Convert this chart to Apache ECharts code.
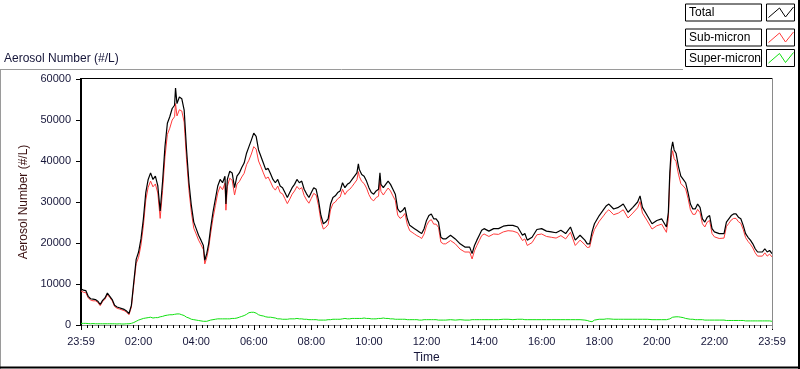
<!DOCTYPE html>
<html>
<head>
<meta charset="utf-8">
<script src="https://cdn.jsdelivr.net/npm/echarts@6/dist/echarts.min.js"></script>
<style>
  html, body { margin: 0; padding: 0; background: #fff; }
  #chart { width: 800px; height: 369px; }
</style>
</head>
<body>
<div id="chart"></div>
<script>
// Minutes after 23:59 (start of the record)
const minutes = [0,5,10,15,20,25,30,35,40,45,50,55,60,65,70,75,80,85,90,95,100,102,105,110,115,120,125,130,135,140,145,150,155,160,165,170,175,180,185,190,195,197,200,205,210,215,220,225,230,235,240,245,250,255,258,262,266,270,275,280,285,290,295,300,302,305,310,315,320,325,330,335,340,345,350,355,360,365,370,375,380,385,390,395,400,405,410,415,420,425,430,435,440,445,450,455,460,465,470,475,480,485,490,495,500,505,510,515,520,525,530,535,540,545,550,555,560,565,570,575,578,580,585,590,595,600,605,610,615,620,623,625,630,635,640,645,650,655,660,665,670,675,680,685,690,695,700,705,710,715,720,725,730,735,740,745,750,755,760,770,780,790,800,810,815,820,825,830,835,840,850,860,870,880,890,900,910,920,925,930,940,950,960,970,980,990,1000,1010,1020,1030,1040,1050,1055,1060,1065,1070,1080,1090,1095,1100,1110,1120,1125,1130,1140,1150,1160,1165,1170,1180,1190,1200,1210,1220,1224,1227,1230,1233,1236,1240,1245,1250,1255,1260,1265,1270,1275,1280,1285,1290,1295,1300,1305,1310,1315,1320,1330,1340,1345,1350,1355,1360,1365,1370,1375,1380,1385,1390,1395,1400,1405,1410,1420,1425,1430,1435,1440];

const totalValues = [8800,8500,8400,7000,6400,6300,6200,5800,5000,6000,6600,7800,7000,6200,4800,4400,4200,4000,3800,3400,2800,2600,4800,10500,16000,17800,21000,25900,32300,35500,37100,35500,36300,34000,27800,35000,43500,49200,50800,52800,53600,57800,54000,55600,55200,52400,42700,34700,29100,25100,23500,21900,20700,19400,15800,17400,19800,23500,27500,30700,33900,35500,34700,36300,29500,35500,37500,37100,33500,36300,37100,38400,39500,41900,43500,45100,46800,46000,42700,41100,39500,37900,38200,36900,35500,34700,35500,33900,33500,32300,31100,32300,33500,34300,35500,34700,35100,33100,32000,31100,32300,33500,33100,30400,26700,24700,25100,25900,29500,31100,31500,32300,32700,34700,33500,34300,34700,35500,36300,37100,39300,37900,36700,36300,35100,33500,32300,31900,32700,33100,37100,34300,33500,34300,35100,34300,33100,31900,28300,27500,27900,28700,25900,24300,23900,23500,23100,22700,22300,23500,25500,26700,27100,25900,25900,25100,21400,21000,21000,21900,21000,19800,19000,19000,17400,19400,20700,21900,23100,23500,22900,23500,23500,24100,24300,24300,23900,21900,22300,20700,21400,23300,23500,22900,22700,22500,23100,22300,23900,20700,21900,20700,19800,19800,22700,24700,26700,28300,29100,29500,28300,28700,29100,29500,27500,28700,30000,31500,28700,26700,24700,25500,25900,23900,27500,37100,42700,44700,42700,41900,38700,36300,35500,34700,32300,29500,28300,28300,29500,28700,25900,25100,26300,26700,23500,22700,22300,22300,25100,25900,26700,27100,27100,26300,25900,24300,22300,21400,20700,19800,18600,17800,17800,18600,17800,18200,17400];

const subValues = [8300,8000,7900,6600,6100,5900,5900,5500,4700,5700,6300,7400,6700,5900,4500,4100,3900,3700,3500,3100,2500,2300,4400,9800,15000,16500,19500,24200,30500,33600,35100,33700,34400,32200,26000,32800,41000,46500,48000,50000,50800,54000,51000,52500,52200,49500,40300,32800,27500,23600,22200,20700,19600,18400,14900,16400,18700,22200,26000,29100,32200,33800,33000,34600,28000,33800,35800,35300,31700,34400,35000,36100,37000,39100,40200,41700,43500,42900,40000,38600,37100,35700,36100,34900,33600,32900,33900,32300,32000,30800,29600,30700,31900,32700,33800,33100,33500,31600,30500,29700,30900,32100,31700,29100,25400,23400,23800,24500,28100,29600,30000,30800,31200,33100,31800,32700,33100,33800,34600,35400,37400,36200,35000,34500,33400,31800,30700,30300,31100,31400,35300,32600,31700,32600,33400,32700,31500,30400,26800,26000,26400,27200,24500,23000,22600,22200,21800,21500,21100,22200,24200,25300,25700,24600,24600,23800,20200,19800,19800,20600,19800,18500,17800,17800,16100,18100,19400,20600,21800,22200,21600,22200,22100,22700,23000,22900,22500,20600,21000,19400,20100,22000,22200,21600,21400,21200,21800,21000,22600,19400,20700,19600,18900,19000,21500,23300,25300,26800,27600,28100,26900,27300,27700,28100,26100,27300,28600,30100,27300,25400,23400,24200,24600,22600,26000,35400,40800,42500,40600,39900,36800,34500,33900,33200,30900,28100,27000,27000,28200,27400,24700,23900,25100,25500,22300,21500,21100,21200,24000,24800,25600,26000,26000,25200,24800,23300,21300,20400,19700,18800,17600,16800,16800,17600,16800,17300,16600];

const superValues = [400,400,400,350,300,350,300,300,300,300,300,300,300,300,300,250,300,250,250,300,300,350,400,600,900,1200,1400,1600,1700,1800,1900,1700,1800,1800,2000,2100,2300,2400,2500,2500,2600,2600,2700,2700,2500,2300,1900,1700,1400,1300,1200,1100,1000,900,800,900,1000,1200,1300,1400,1500,1500,1500,1500,1500,1500,1500,1600,1600,1700,1900,2100,2300,2600,3000,3100,3100,2900,2500,2300,2200,2000,1900,1900,1800,1700,1500,1500,1400,1400,1400,1500,1500,1500,1600,1500,1500,1400,1400,1300,1300,1300,1300,1200,1200,1200,1200,1300,1300,1400,1400,1400,1400,1500,1600,1500,1500,1600,1600,1600,1700,1600,1600,1700,1600,1600,1500,1500,1500,1600,1600,1600,1700,1600,1600,1500,1500,1400,1400,1400,1400,1400,1300,1300,1300,1300,1300,1200,1200,1300,1300,1300,1300,1300,1300,1200,1200,1200,1200,1300,1200,1300,1200,1200,1300,1300,1300,1300,1300,1300,1300,1300,1300,1400,1400,1300,1400,1400,1300,1300,1300,1300,1300,1300,1300,1300,1300,1300,1300,1300,1300,1200,1100,900,800,1200,1400,1400,1500,1500,1400,1400,1400,1400,1400,1400,1400,1400,1400,1400,1300,1300,1300,1300,1300,1500,1700,1900,2000,2000,2000,1900,1800,1600,1500,1400,1400,1300,1300,1300,1300,1200,1200,1200,1200,1200,1200,1200,1100,1100,1100,1100,1100,1100,1100,1100,1000,1000,1000,1000,1000,1000,1000,1000,1000,1000,900,800];

const tickLabels = ['23:59','02:00','04:00','06:00','08:00','10:00','12:00','14:00','16:00','18:00','20:00','22:00','23:59'];
const seriesNames = ['Total','Sub-micron','Super-micron'];
const seriesColors = ['#000000','#ff3b3b','#11e011'];

const FONT = 'Liberation Sans, Arial, sans-serif';
const TXT = '#16163a';

const mk = vals => minutes.map((m, i) => [m, vals[i]]);

const chart = echarts.init(document.getElementById('chart'), null, { renderer: 'canvas' });

function legendRow(i, top) {
  const sx = 766.5;
  return [
    { type: 'rect', shape: { x: 685.5, y: top + 0.5, width: 76, height: 17 },
      style: { fill: '#fff', stroke: '#000', lineWidth: 1 }, z: 10 },
    { type: 'text', x: 689, y: top + 9.5,
      style: { text: seriesNames[i], fill: '#000', font: '12px ' + FONT, textVerticalAlign: 'middle' }, z: 11 },
    { type: 'rect', shape: { x: sx, y: top + 0.5, width: 28, height: 17 },
      style: { fill: '#fff', stroke: '#000', lineWidth: 1 }, z: 10 },
    { type: 'polyline', shape: { points: [[sx + 2, top + 14], [sx + 13, top + 4.5], [sx + 19, top + 13.5], [sx + 27, top + 3.5]] },
      style: { stroke: seriesColors[i], lineWidth: 1, fill: null }, z: 11 }
  ];
}

const option = {
  animation: false,
  backgroundColor: '#ffffff',
  grid: { left: 81, top: 79, width: 691, height: 250, containLabel: false },
  xAxis: {
    type: 'value', min: 0, max: 1440, interval: 120,
    name: 'Time', nameLocation: 'middle', nameGap: 27,
    nameTextStyle: { color: TXT, fontSize: 12, fontFamily: FONT },
    axisLine: { show: true, onZero: false, lineStyle: { color: '#8a8a8a', width: 1 } },
    axisTick: { show: true, length: 5, lineStyle: { color: '#000' } },
    minorTick: { show: true, splitNumber: 10, length: 3, lineStyle: { color: '#000' } },
    splitLine: { show: false },
    axisLabel: { color: TXT, fontSize: 11, fontFamily: FONT, margin: 11,
      formatter: v => tickLabels[Math.round(v / 120)] || '' }
  },
  yAxis: {
    type: 'value', min: 0, max: 60000, interval: 10000,
    name: 'Aerosol Number (#/L)', nameLocation: 'middle', nameGap: 43, nameRotate: 90,
    nameTextStyle: { color: '#3a1010', fontSize: 12, fontFamily: FONT },
    axisLine: { show: true, lineStyle: { color: '#000', width: 2 } },
    axisTick: { show: true, length: 5, lineStyle: { color: '#000' } },
    splitLine: { show: false },
    axisLabel: { color: TXT, fontSize: 11, fontFamily: FONT, margin: 10, formatter: v => String(v) }
  },
  graphic: [
    { type: 'text', x: 4, y: 53,
      style: { text: 'Aerosol Number (#/L)', fill: TXT, font: '12px ' + FONT } },
    { type: 'line', shape: { x1: 0, y1: 69.5, x2: 683, y2: 69.5 }, style: { stroke: '#9a9a9a', lineWidth: 1 } },
    { type: 'line', shape: { x1: 0.5, y1: 69, x2: 0.5, y2: 369 }, style: { stroke: '#9a9a9a', lineWidth: 1 } },
    { type: 'line', shape: { x1: 0, y1: 367.5, x2: 800, y2: 367.5 }, style: { stroke: '#000', lineWidth: 2 } },
    { type: 'line', shape: { x1: 799, y1: 0, x2: 799, y2: 369 }, style: { stroke: '#000', lineWidth: 2 } },
    { type: 'line', shape: { x1: 80, y1: 78.5, x2: 772, y2: 78.5 }, style: { stroke: '#000', lineWidth: 1 }, z: 5 },
    { type: 'line', shape: { x1: 772.5, y1: 78, x2: 772.5, y2: 329 }, style: { stroke: '#8a8a8a', lineWidth: 1 }, z: 5 },
    ...legendRow(0, 3.5),
    ...legendRow(1, 28.5),
    ...legendRow(2, 49)
  ],
  series: [
    { name: seriesNames[2], type: 'line', data: mk(superValues), showSymbol: false, symbol: 'none',
      lineStyle: { color: seriesColors[2], width: 1 }, z: 2 },
    { name: seriesNames[1], type: 'line', data: mk(subValues), showSymbol: false, symbol: 'none',
      lineStyle: { color: seriesColors[1], width: 1 }, z: 3 },
    { name: seriesNames[0], type: 'line', data: mk(totalValues), showSymbol: false, symbol: 'none',
      lineStyle: { color: seriesColors[0], width: 1.2 }, z: 4 }
  ]
};
chart.setOption(option);
</script>
</body>
</html>
